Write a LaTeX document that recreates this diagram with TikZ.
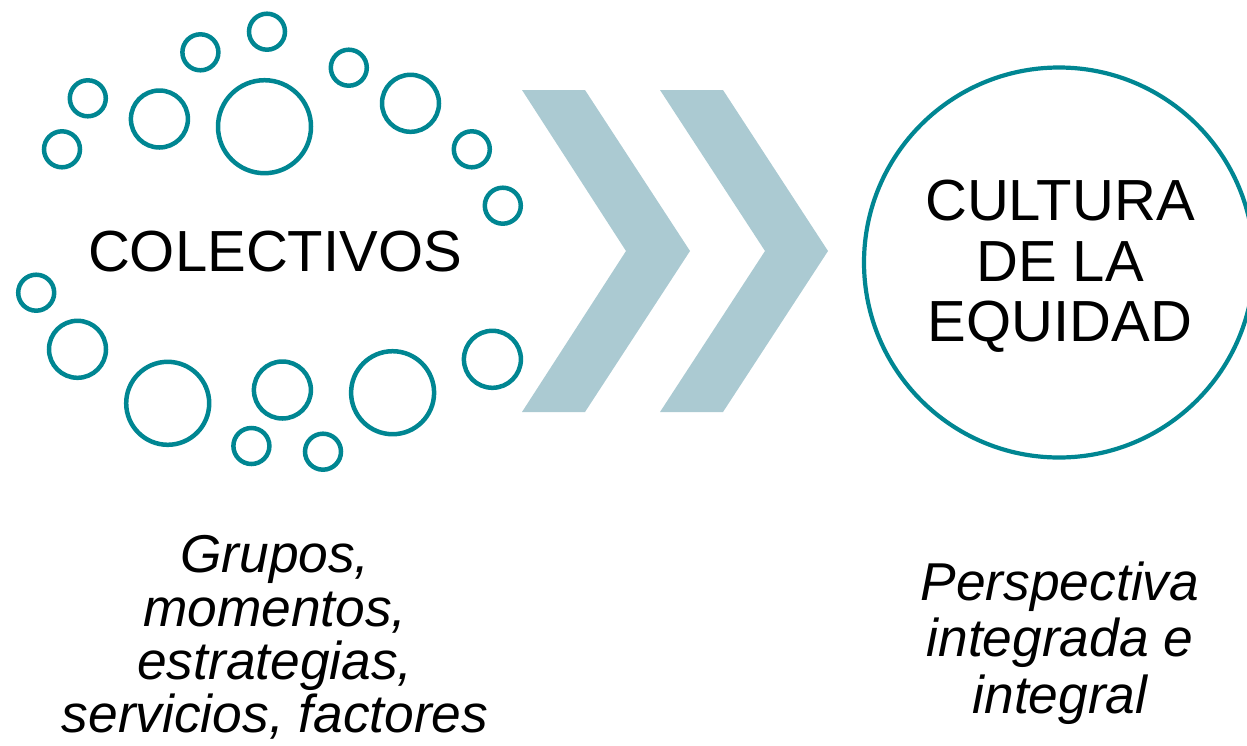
\documentclass[tikz,border=0pt]{standalone}
\usepackage{fontspec}
\setmainfont{Liberation Sans}
\definecolor{teal1}{RGB}{0,134,146}
\definecolor{chev}{RGB}{171,202,210}
\begin{document}
\begin{tikzpicture}[x=1pt,y=-1pt,
  ring/.style={circle,draw=teal1,line width=4.5pt,inner sep=0pt},
  rs/.style={ring,minimum size=36pt},
  rm/.style={ring,minimum size=57pt},
  rl/.style={ring,minimum size=83pt},
  rxl/.style={ring,minimum size=93pt},
  big/.style={circle,draw=teal1,line width=4.2pt,inner sep=0pt,minimum size=390pt},
  title/.style={inner sep=0pt,anchor=base,font=\fontsize{58}{60}\selectfont},
  sub/.style={inner sep=0pt,anchor=base,font=\fontsize{53.3}{56}\selectfont\itshape},
  chevron/.style={fill=chev,draw=none}]
\useasboundingbox (0,0) rectangle (1247,745);
\clip (0,0) rectangle (1247,745);
% small circles
\node[rs] (a) at (267,31.7) {};
\node[rs] (b) at (200.4,52.3) {};
\node[rs] (c) at (87.8,98.3) {};
\node[rs] (d) at (62,149.3) {};
\node[rm] (e) at (159.4,119) {};
\node[rxl] (f) at (264.5,126.7) {};
\node[rs] (g) at (348.8,67.7) {};
\node[rm] (h) at (410.5,103.3) {};
\node[rs] (i) at (471.8,149.3) {};
\node[rs] (j) at (502.8,205.7) {};
\node[rs] (k) at (36.2,292.7) {};
\node[rm] (l) at (77.5,349.3) {};
\node[rl] (m) at (167.7,403.3) {};
\node[rm] (n) at (282.4,390) {};
\node[rl] (o) at (392.6,392.7) {};
\node[rm] (p) at (492.4,359.3) {};
\node[rs] (q) at (251.4,446) {};
\node[rs] (r) at (323,451.7) {};
\node[title] (colectivos) at (275,271) {COLECTIVOS};
% chevrons
\fill[chevron] (522,90) -- (585,90) -- (690,251) -- (585,412) -- (522,412) -- (626,251) -- cycle;
\fill[chevron] (660,90) -- (723,90) -- (828,251) -- (723,412) -- (660,412) -- (765,251) -- cycle;
% big circle
\node[big] (cultura) at (1059,262.5) {};
\node[title] (t1) at (1060,220) {CULTURA};
\node[title] (t2) at (1060,281) {DE LA};
\node[title] (t3) at (1060,341) {EQUIDAD};
% subtitles
\node[sub] (s1) at (275,572) {Grupos,};
\node[sub] (s2) at (275,626) {momentos,};
\node[sub] (s3) at (275,679) {estrategias,};
\node[sub] (s4) at (275,732) {servicios, factores};
\node[sub] (p1) at (1060,600) {Perspectiva};
\node[sub] (p2) at (1060,656.5) {integrada e};
\node[sub] (p3) at (1060,713) {integral};
\end{tikzpicture}
\end{document}
